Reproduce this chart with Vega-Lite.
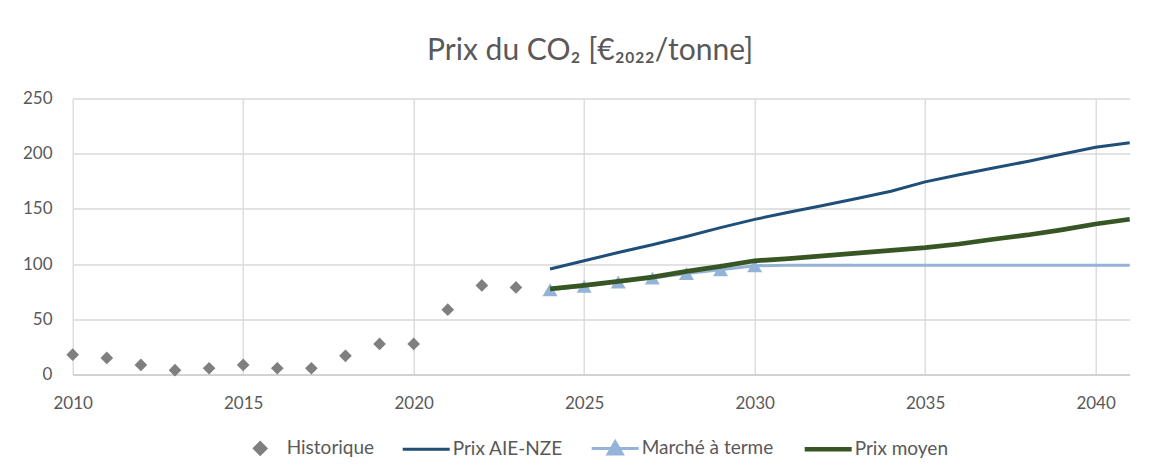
{
  "$schema": "https://vega.github.io/schema/vega-lite/v6.json",
  "width": 1057,
  "height": 276,
  "autosize": {"type": "none"},
  "padding": {"left": 72.7, "top": 98.5, "right": 39.3, "bottom": 98.5},
  "background": "white",
  "title": {
    "text": "Prix du CO₂ [€₂₀₂₂/tonne]",
    "font": "Lato",
    "fontSize": 30,
    "fontWeight": "normal",
    "color": "#595959",
    "anchor": "middle",
    "dx": -11,
    "offset": 24
  },
  "data": {
    "values": [
      {"annee": 2010, "serie": "Historique", "valeur": 18},
      {"annee": 2011, "serie": "Historique", "valeur": 15},
      {"annee": 2012, "serie": "Historique", "valeur": 8.7},
      {"annee": 2013, "serie": "Historique", "valeur": 3.9},
      {"annee": 2014, "serie": "Historique", "valeur": 5.7},
      {"annee": 2015, "serie": "Historique", "valeur": 8.7},
      {"annee": 2016, "serie": "Historique", "valeur": 5.7},
      {"annee": 2017, "serie": "Historique", "valeur": 5.7},
      {"annee": 2018, "serie": "Historique", "valeur": 16.9},
      {"annee": 2019, "serie": "Historique", "valeur": 27.7},
      {"annee": 2020, "serie": "Historique", "valeur": 27.7},
      {"annee": 2021, "serie": "Historique", "valeur": 58.7},
      {"annee": 2022, "serie": "Historique", "valeur": 80.7},
      {"annee": 2023, "serie": "Historique", "valeur": 78.9},
      {"annee": 2024, "serie": "Prix AIE-NZE", "valeur": 95.5},
      {"annee": 2025, "serie": "Prix AIE-NZE", "valeur": 103},
      {"annee": 2026, "serie": "Prix AIE-NZE", "valeur": 110.5},
      {"annee": 2027, "serie": "Prix AIE-NZE", "valeur": 117.5},
      {"annee": 2028, "serie": "Prix AIE-NZE", "valeur": 125},
      {"annee": 2029, "serie": "Prix AIE-NZE", "valeur": 133},
      {"annee": 2030, "serie": "Prix AIE-NZE", "valeur": 140.5},
      {"annee": 2031, "serie": "Prix AIE-NZE", "valeur": 147},
      {"annee": 2032, "serie": "Prix AIE-NZE", "valeur": 153},
      {"annee": 2033, "serie": "Prix AIE-NZE", "valeur": 159.5},
      {"annee": 2034, "serie": "Prix AIE-NZE", "valeur": 166},
      {"annee": 2035, "serie": "Prix AIE-NZE", "valeur": 174.5},
      {"annee": 2036, "serie": "Prix AIE-NZE", "valeur": 181},
      {"annee": 2037, "serie": "Prix AIE-NZE", "valeur": 187},
      {"annee": 2038, "serie": "Prix AIE-NZE", "valeur": 193},
      {"annee": 2039, "serie": "Prix AIE-NZE", "valeur": 199.5},
      {"annee": 2040, "serie": "Prix AIE-NZE", "valeur": 205.8},
      {"annee": 2041, "serie": "Prix AIE-NZE", "valeur": 210},
      {"annee": 2024, "serie": "Marché à terme", "valeur": 76.8},
      {"annee": 2025, "serie": "Marché à terme", "valeur": 80},
      {"annee": 2026, "serie": "Marché à terme", "valeur": 83.7},
      {"annee": 2027, "serie": "Marché à terme", "valeur": 87.3},
      {"annee": 2028, "serie": "Marché à terme", "valeur": 91.5},
      {"annee": 2029, "serie": "Marché à terme", "valeur": 94.8},
      {"annee": 2030, "serie": "Marché à terme", "valeur": 98.5},
      {"annee": 2031, "serie": "Marché à terme", "valeur": 99},
      {"annee": 2032, "serie": "Marché à terme", "valeur": 99},
      {"annee": 2033, "serie": "Marché à terme", "valeur": 99},
      {"annee": 2034, "serie": "Marché à terme", "valeur": 99},
      {"annee": 2035, "serie": "Marché à terme", "valeur": 99},
      {"annee": 2036, "serie": "Marché à terme", "valeur": 99},
      {"annee": 2037, "serie": "Marché à terme", "valeur": 99},
      {"annee": 2038, "serie": "Marché à terme", "valeur": 99},
      {"annee": 2039, "serie": "Marché à terme", "valeur": 99},
      {"annee": 2040, "serie": "Marché à terme", "valeur": 99},
      {"annee": 2041, "serie": "Marché à terme", "valeur": 99},
      {"annee": 2024, "serie": "Prix moyen", "valeur": 77.6},
      {"annee": 2025, "serie": "Prix moyen", "valeur": 80.7},
      {"annee": 2026, "serie": "Prix moyen", "valeur": 84.3},
      {"annee": 2027, "serie": "Prix moyen", "valeur": 88.2},
      {"annee": 2028, "serie": "Prix moyen", "valeur": 93.4},
      {"annee": 2029, "serie": "Prix moyen", "valeur": 97.9},
      {"annee": 2030, "serie": "Prix moyen", "valeur": 103},
      {"annee": 2031, "serie": "Prix moyen", "valeur": 105},
      {"annee": 2032, "serie": "Prix moyen", "valeur": 107.5},
      {"annee": 2033, "serie": "Prix moyen", "valeur": 110},
      {"annee": 2034, "serie": "Prix moyen", "valeur": 112.5},
      {"annee": 2035, "serie": "Prix moyen", "valeur": 115},
      {"annee": 2036, "serie": "Prix moyen", "valeur": 118.2},
      {"annee": 2037, "serie": "Prix moyen", "valeur": 122.5},
      {"annee": 2038, "serie": "Prix moyen", "valeur": 126.4},
      {"annee": 2039, "serie": "Prix moyen", "valeur": 131},
      {"annee": 2040, "serie": "Prix moyen", "valeur": 136.3},
      {"annee": 2041, "serie": "Prix moyen", "valeur": 140.6}
    ]
  },
  "encoding": {
    "x": {
      "field": "annee",
      "type": "quantitative",
      "scale": {"domain": [2010, 2041], "nice": false, "zero": false},
      "axis": {
        "values": [2010, 2015, 2020, 2025, 2030, 2035, 2040],
        "format": "d",
        "title": null,
        "grid": true,
        "ticks": false,
        "domain": true,
        "domainColor": "#cccccc",
        "domainWidth": 1.3,
        "labelPadding": 21,
        "labelFlush": false
      }
    },
    "y": {
      "field": "valeur",
      "type": "quantitative",
      "scale": {"domain": [0, 250], "nice": false},
      "axis": {
        "values": [0, 50, 100, 150, 200, 250],
        "title": null,
        "grid": true,
        "ticks": false,
        "domain": false,
        "labelPadding": 20.7
      }
    }
  },
  "layer": [
    {
      "transform": [{"filter": "datum.serie === 'Prix AIE-NZE'"}],
      "mark": {"type": "line", "strokeWidth": 3},
      "encoding": {
        "color": {
          "field": "serie",
          "type": "nominal",
          "scale": {
            "domain": ["Historique", "Prix AIE-NZE", "Marché à terme", "Prix moyen"],
            "range": ["#7f7f7f", "#1f4e79", "#95b3d7", "#375623"]
          },
          "legend": {
            "title": null,
            "orient": "none",
            "legendX": 178,
            "legendY": 340,
            "direction": "horizontal",
            "columnPadding": 22,
            "symbolSize": 2209,
            "labelOffset": 17,
            "labelFont": "Lato",
            "labelFontSize": 19,
            "labelColor": "#595959",
            "encode": {
              "symbols": {
                "update": {
                  "shape": {"signal": "datum.value === 'Historique' ? 'diamond' : datum.value === 'Marché à terme' ? 'M-1,0H1M0,-0.28L0.3,0.24H-0.3Z' : 'stroke'"},
                  "size": {"signal": "datum.value === 'Historique' ? 130 : 2209"},
                  "fill": {"signal": "datum.value === 'Historique' ? '#7f7f7f' : datum.value === 'Marché à terme' ? '#95b3d7' : 'transparent'"},
                  "stroke": {"signal": "datum.value === 'Historique' ? 'transparent' : datum.value === 'Marché à terme' ? '#95b3d7' : datum.value === 'Prix moyen' ? '#375623' : '#1f4e79'"},
                  "strokeWidth": {"signal": "datum.value === 'Prix moyen' ? 4.5 : 3"},
                  "opacity": {"value": 1}
                }
              }
            }
          }
        }
      }
    },
    {
      "transform": [{"filter": "datum.serie === 'Marché à terme'"}],
      "mark": {"type": "line", "strokeWidth": 3, "color": "#95b3d7"}
    },
    {
      "transform": [{"filter": "datum.serie === 'Marché à terme' && datum.annee <= 2030"}],
      "mark": {"type": "point", "shape": "triangle-up", "filled": true, "size": 225, "opacity": 1, "color": "#95b3d7"}
    },
    {
      "transform": [{"filter": "datum.serie === 'Prix moyen'"}],
      "mark": {"type": "line", "strokeWidth": 4.7, "color": "#375623"}
    },
    {
      "transform": [{"filter": "datum.serie === 'Historique'"}],
      "mark": {"type": "point", "shape": "diamond", "filled": true, "size": 160, "opacity": 1, "color": "#7f7f7f"}
    }
  ],
  "config": {
    "font": "Lato",
    "view": {"stroke": null},
    "axis": {
      "labelFont": "Lato",
      "labelFontSize": 17,
      "labelColor": "#595959",
      "gridColor": "#d9d9d9",
      "gridWidth": 1.3
    }
  }
}
